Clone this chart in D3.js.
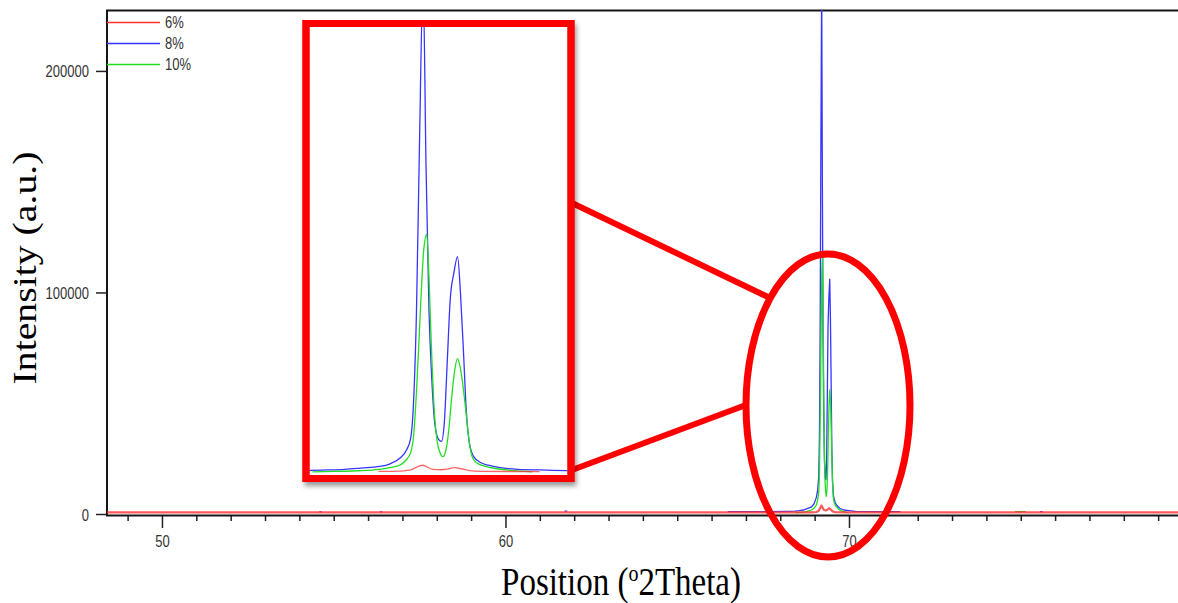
<!DOCTYPE html>
<html>
<head>
<meta charset="utf-8">
<script src="https://cdn.jsdelivr.net/npm/d3@7"></script>
<style>
  body { margin: 0; background: #fff; }
  svg { display: block; }
</style>
</head>
<body>
<svg id="chart" width="1178" height="603"></svg>
<script>
// XRD scans (counts vs. 2θ) for three doping levels; null marks a gap in a scan
const series6 = [
  [48.4, 700], [55.0, 700], [62.0, 700], [66.0, 700], [68.9, 750], [69.05, 900],
  [69.12, 1500], [69.2, 3800], [69.27, 1800], [69.33, 1600], [69.37, 1900],
  [69.42, 2600], [69.47, 2000], [69.52, 1200], [69.6, 800], [70.0, 700],
  [75.0, 700], [80.0, 700]
];
const series8 = [
  [54.58, 1000], [54.66, 1000], null,
  [56.34, 1000], [56.42, 1000], null,
  [61.72, 1300], [61.80, 1300], null,
  [66.47, 1100], [67.5, 1100], [68.2, 1200], [68.43, 1300], [68.55, 1500],
  [68.67, 1800], [68.78, 2400], [68.91, 3200], [68.98, 4500], [69.05, 7500],
  [69.09, 11000], [69.12, 17000], [69.14, 35000], [69.16, 80000],
  [69.18, 160000], [69.205, 240000], [69.225, 150000], [69.245, 80000],
  [69.265, 45000], [69.285, 24000], [69.31, 16500], [69.33, 15500],
  [69.35, 25000], [69.37, 55000], [69.39, 85000], [69.415, 98000],
  [69.44, 106000], [69.46, 88000], [69.48, 60000], [69.50, 30000],
  [69.52, 15000], [69.55, 8000], [69.6, 5000], [69.65, 3800], [69.73, 2600],
  [69.85, 1800], [70.0, 1500], [70.18, 1200], [70.6, 1100], [71.5, 1100], null,
  [74.93, 1100], [74.97, 1100], null,
  [75.56, 1100], [75.64, 1100]
];
const series10 = [
  [68.45, 600], [68.6, 750], [68.75, 1100], [68.91, 1800], [68.98, 2600],
  [69.05, 4000], [69.09, 6500], [69.12, 10000], [69.14, 18000], [69.16, 40000],
  [69.19, 85000], [69.21, 110000], [69.23, 117000], [69.245, 96000],
  [69.26, 65000], [69.28, 32000], [69.30, 16000], [69.32, 10000], [69.34, 8000],
  [69.36, 11000], [69.38, 21000], [69.40, 37000], [69.42, 50000], [69.44, 56000],
  [69.46, 51000], [69.48, 41000], [69.50, 28000], [69.52, 15000], [69.54, 8000],
  [69.57, 5000], [69.62, 3500], [69.7, 2200], [69.8, 1300], [69.95, 600], null,
  [74.83, 1100], [75.15, 1100]
];

const seriesNames = ["6%", "8%", "10%"];
const seriesColors = ["#ff3030", "#3535ff", "#22dd22"];

const xMajorTicks = [50, 60, 70];
const xMinorTicks = d3.range(49, 80, 1);
const yTicks = [0, 100000, 200000];

const plot = { left: 107, top: 10, right: 1178, bottom: 514 };

const svg = d3.select("#chart");
const defs = svg.append("defs");

defs.append("clipPath").attr("id", "plotClip")
  .append("rect")
  .attr("x", plot.left).attr("y", plot.top)
  .attr("width", plot.right - plot.left).attr("height", plot.bottom - plot.top + 4);

const shadow = defs.append("filter").attr("id", "boxShadow")
  .attr("x", "-10%").attr("y", "-10%").attr("width", "130%").attr("height", "130%");
shadow.append("feDropShadow")
  .attr("dx", 2).attr("dy", 4).attr("stdDeviation", 2.5)
  .attr("flood-color", "#000").attr("flood-opacity", 0.4);

// Main scales
const x = d3.scaleLinear().domain([48.4, 80]).range([107, 1192.5]);
const y = d3.scaleLinear().domain([0, 227500]).range([plot.bottom, plot.top]);

const sans = "'Liberation Sans', Arial, sans-serif";
const serif = "'Liberation Serif', 'Times New Roman', serif";
const stretch = 1.22;

// Axes
const xMinor = svg.append("g")
  .attr("transform", `translate(0,${plot.bottom + 1})`)
  .call(d3.axisBottom(x).tickValues(xMinorTicks.filter(v => !xMajorTicks.includes(v)))
    .tickSize(6).tickSizeOuter(0).tickFormat(""));
xMinor.select(".domain").remove();
xMinor.selectAll("line").attr("stroke", "#222").attr("stroke-width", 1.5);

const xMajor = svg.append("g")
  .attr("transform", `translate(0,${plot.bottom + 1})`)
  .call(d3.axisBottom(x).tickValues(xMajorTicks).tickSize(13).tickSizeOuter(0).tickFormat(d3.format("d")));
xMajor.select(".domain").remove();
xMajor.selectAll("line").attr("stroke", "#222").attr("stroke-width", 1.5);
xMajor.selectAll("text")
  .attr("y", 0).attr("dy", null)
  .attr("transform", `translate(0,32) scale(1,${stretch})`)
  .attr("font-family", sans).attr("font-size", 13).attr("fill", "#333");

const yAxis = svg.append("g")
  .attr("transform", `translate(${plot.left},0)`)
  .call(d3.axisLeft(y).tickValues(yTicks).tickSize(11).tickSizeOuter(0).tickFormat(d3.format("d")));
yAxis.select(".domain").remove();
yAxis.selectAll("line").attr("stroke", "#222").attr("stroke-width", 1.5);
yAxis.selectAll("text")
  .attr("x", 0).attr("dy", null)
  .attr("text-anchor", "end")
  .attr("transform", `translate(-18,6) scale(1,${stretch})`)
  .attr("font-family", sans).attr("font-size", 13).attr("fill", "#333");

// Frame: left, bottom and top border
svg.append("path")
  .attr("d", `M${plot.right},${plot.top + 0.5}H${plot.left}V${plot.bottom + 1.5}H${plot.right}`)
  .attr("fill", "none").attr("stroke", "#151515").attr("stroke-width", 2);

// Scan lines
const line = d3.line().defined(d => d !== null).x(d => x(d[0])).y(d => y(d[1]));
const allSeries = [series6, series8, series10];
const drawOrder = [1, 2, 0];
const lines = svg.append("g").attr("clip-path", "url(#plotClip)");
drawOrder.forEach(i => {
  lines.append("path")
    .datum(allSeries[i])
    .attr("d", line)
    .attr("fill", "none")
    .attr("stroke", seriesColors[i])
    .attr("stroke-width", i === 0 ? 2.2 : 1.3)
    .attr("stroke-opacity", i === 0 ? 0.8 : 1)
    .attr("stroke-linejoin", "round");
});

// Legend
const legend = svg.append("g");
seriesNames.forEach((name, i) => {
  const ly = 22.5 + i * 21;
  legend.append("line")
    .attr("x1", plot.left).attr("x2", 160).attr("y1", ly).attr("y2", ly)
    .attr("stroke", seriesColors[i]).attr("stroke-width", 1.5);
  legend.append("text")
    .attr("transform", `translate(165,${ly + 5}) scale(1,${stretch})`)
    .attr("font-family", sans).attr("font-size", 13).attr("fill", "#333")
    .text(name);
});

// Axis titles
svg.append("text")
  .attr("transform", `translate(36,268) rotate(-90) scale(${1 / 0.83},1)`)
  .attr("text-anchor", "middle")
  .attr("font-family", serif).attr("font-size", 33).attr("fill", "#000")
  .text("Intensity (a.u.)");

const xTitle = svg.append("text")
  .attr("transform", `translate(621,595) scale(1,${1 / 0.83})`)
  .attr("text-anchor", "middle")
  .attr("font-family", serif).attr("font-size", 33).attr("fill", "#000");
xTitle.append("tspan").text("Position (");
xTitle.append("tspan").attr("font-size", 20).attr("dy", -12).text("o");
xTitle.append("tspan").attr("dy", 12).text("2Theta)");

// Callout: connectors, ellipse around the doublet, magnified box
const red = "#ff0000";
const callout = svg.append("g");
callout.append("line")
  .attr("x1", 572).attr("y1", 203).attr("x2", 768).attr("y2", 297)
  .attr("stroke", red).attr("stroke-width", 6);
callout.append("line")
  .attr("x1", 572).attr("y1", 470).attr("x2", 746).attr("y2", 405)
  .attr("stroke", red).attr("stroke-width", 6);
callout.append("ellipse")
  .attr("cx", 828).attr("cy", 405.5).attr("rx", 82).attr("ry", 151.5)
  .attr("fill", "none").attr("stroke", red).attr("stroke-width", 7);

// Magnified view of the 69° doublet
const box = { x0: 309.5, y0: 27, x1: 567.5, y1: 474.5 };
const ix = d3.scaleLinear().domain([68.43, 70.19]).range([box.x0, box.x1]);
const iy = d3.scaleLinear().domain([0, 218000]).range([473, 28]);

defs.append("clipPath").attr("id", "insetClip")
  .append("rect")
  .attr("x", box.x0).attr("y", box.y0)
  .attr("width", box.x1 - box.x0).attr("height", box.y1 - box.y0);

const inset = svg.append("g");
inset.append("rect")
  .attr("x", 306).attr("y", 23.5).attr("width", 265).attr("height", 455)
  .attr("fill", "#fff").attr("stroke", red).attr("stroke-width", 7)
  .attr("filter", "url(#boxShadow)");

const insetLine = d3.line().defined(d => d !== null)
  .x(d => ix(d[0])).y(d => iy(d[1])).curve(d3.curveMonotoneX);
const insetLines = inset.append("g").attr("clip-path", "url(#insetClip)");
drawOrder.forEach(i => {
  insetLines.append("path")
    .datum(allSeries[i].filter(d => d === null || (d[0] >= 68.0 && d[0] <= 71.6)))
    .attr("d", insetLine)
    .attr("fill", "none")
    .attr("stroke", seriesColors[i])
    .attr("stroke-width", 1.3)
    .attr("stroke-opacity", i === 0 ? 0.75 : 1)
    .attr("stroke-linejoin", "round");
});
inset.append("rect")
  .attr("x", 306).attr("y", 23.5).attr("width", 265).attr("height", 455)
  .attr("fill", "none").attr("stroke", red).attr("stroke-width", 7);
</script>
</body>
</html>
